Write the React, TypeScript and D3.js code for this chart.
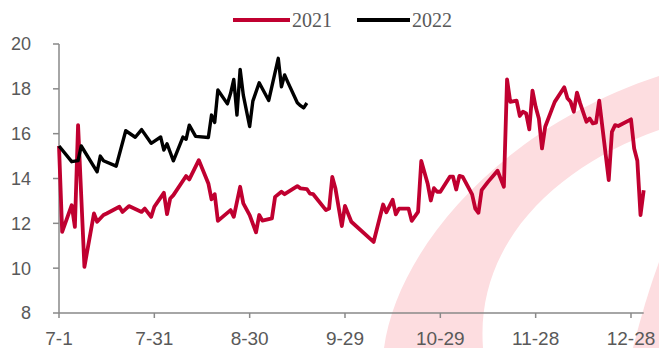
import React from 'react';
import * as d3 from 'd3';

// month-day categories (2021 season, Jan rolls into next year)
const dates2021 = [
  '07-01', '07-02', '07-05', '07-06', '07-07', '07-09', '07-12', '07-13', '07-15', '07-16',
  '07-20', '07-21', '07-23', '07-27', '07-28', '07-30', '07-31', '08-03', '08-04', '08-05',
  '08-06', '08-10', '08-11', '08-14', '08-17', '08-18', '08-19', '08-20', '08-24', '08-25',
  '08-27', '08-28', '08-30', '09-01', '09-02', '09-03', '09-06', '09-07', '09-09', '09-10',
  '09-14', '09-15', '09-17', '09-18', '09-19', '09-23', '09-24', '09-25', '09-26', '09-28',
  '09-29', '10-01', '10-08', '10-11', '10-12', '10-14', '10-15', '10-16', '10-19', '10-20',
  '10-22', '10-23', '10-25', '10-26', '10-27', '10-28', '10-29', '11-01', '11-02', '11-03',
  '11-04', '11-05', '11-08', '11-09', '11-10', '11-11', '11-13', '11-16', '11-18', '11-19',
  '11-20', '11-22', '11-23', '11-24', '11-25', '11-26', '11-27', '11-28', '11-29', '11-30',
  '12-01', '12-03', '12-04', '12-07', '12-08', '12-09', '12-10', '12-11', '12-12', '12-14',
  '12-15', '12-16', '12-17', '12-18', '12-21', '12-22', '12-23', '12-24', '12-28', '12-29',
  '12-30', '12-31', '01-01'
];
const values2021 = [
  15.45, 11.62, 12.81, 11.84, 16.38, 10.06, 12.44, 12.07, 12.37, 12.44,
  12.74, 12.51, 12.77, 12.51, 12.66, 12.29, 12.74, 13.36, 12.41, 13.11,
  13.26, 14.11, 13.96, 14.82, 13.78, 13.07, 13.3, 12.11, 12.59, 12.29,
  13.63, 12.89, 12.37, 11.6, 12.37, 12.12, 12.22, 13.18, 13.41, 13.3,
  13.66, 13.56, 13.53, 13.32, 13.3, 12.59, 12.66, 14.07, 13.55, 11.88,
  12.78, 12.07, 11.17, 12.84, 12.49, 13.05, 12.4, 12.66, 12.66, 12.11,
  12.51, 14.78, 13.78, 13.02, 13.57, 13.41, 13.41, 14.08, 14.08, 13.51,
  14.12, 14.08, 13.29, 12.66, 12.47, 13.48, 13.85, 14.35, 13.63, 18.42,
  17.42, 17.47, 16.79, 16.98, 16.9, 16.19, 17.92, 17.2, 16.68, 15.34,
  16.31, 17.05, 17.42, 18.07, 17.58, 17.42, 16.98, 17.83, 17.35, 16.53,
  16.68, 16.46, 16.49, 17.47, 13.93, 16.08, 16.38, 16.34, 16.64, 15.34,
  14.79, 12.37, 13.48
];

const dates2022 = [
  '07-01', '07-05', '07-07', '07-08', '07-13', '07-14', '07-15', '07-19', '07-22', '07-25',
  '07-27', '07-30', '08-02', '08-03', '08-04', '08-06', '08-09', '08-10', '08-11', '08-13',
  '08-17', '08-18', '08-19', '08-20', '08-23', '08-24', '08-25', '08-26', '08-27', '08-28',
  '08-30', '08-31', '09-02', '09-05', '09-08', '09-09', '09-10', '09-11', '09-14', '09-15',
  '09-16', '09-17'
];
const values2022 = [
  15.45, 14.75, 14.8, 15.45, 14.3, 15.0, 14.79, 14.55, 16.13, 15.84,
  16.18, 15.57, 15.85, 15.27, 15.55, 14.79, 15.85, 15.75, 16.38, 15.88,
  15.83, 16.83, 16.5, 17.95, 17.33, 17.8, 18.42, 16.83, 18.87, 17.72,
  16.32, 17.45, 18.27, 17.48, 19.36, 18.09, 18.62, 18.3, 17.38, 17.25,
  17.15, 17.37
];

const xTickLabels = ['7-1', '7-31', '8-30', '9-29', '10-29', '11-28', '12-28'];
const yTicks = [8, 10, 12, 14, 16, 18, 20];
const seriesNames = ['2021', '2022'];

const RED = '#c00030';
const AXIS = '#898989';
const TEXT = '#595959';

const toDate = (md: string) => {
  const [m, d] = md.split('-').map(Number);
  return new Date(Date.UTC(m >= 7 ? 2021 : 2022, m - 1, d));
};

export default function App() {
  const width = 659;
  const height = 348;

  const x = d3
    .scaleUtc()
    .domain([new Date(Date.UTC(2021, 6, 1)), new Date(Date.UTC(2022, 0, 1))])
    .range([59, 643.7]);
  const y = d3.scaleLinear().domain([8, 20]).range([313, 44]);

  const line = d3
    .line<[string, number]>()
    .x((d) => x(toDate(d[0])))
    .y((d) => y(d[1]));

  const red = line(dates2021.map((d, i) => [d, values2021[i]] as [string, number]));
  const black = line(dates2022.map((d, i) => [d, values2022[i]] as [string, number]));

  const xTicks = xTickLabels.map((l) => ({ label: l, pos: x(toDate(l)) }));

  return (
    <svg
      width={width}
      height={height}
      style={{ position: 'absolute', left: 0, top: 0, background: '#fff' }}
    >
      {/* watermark swoosh */}
      <g fill="#fddde0">
        <path d="M384,348 C397,250 500,128 659,76 L659,130 C560,165 475,240 483,348 Z" />
        <path d="M633,348 Q645,300 659,262 L659,348 Z" />
      </g>

      {/* y axis */}
      <line x1={59} x2={59} y1={y(20)} y2={y(8)} stroke={AXIS} strokeWidth={1.5} />
      {yTicks.map((t) => (
        <g key={t}>
          <line x1={53} x2={59} y1={y(t)} y2={y(t)} stroke={AXIS} strokeWidth={1.5} />
          <text
            x={31}
            y={y(t)}
            dy="0.36em"
            textAnchor="end"
            fontFamily="'Liberation Sans', Arial, sans-serif"
            fontSize={18}
            fill={TEXT}
          >
            {t}
          </text>
        </g>
      ))}

      {/* x axis */}
      <line x1={59} x2={643.7} y1={y(8)} y2={y(8)} stroke={AXIS} strokeWidth={1.5} />
      {xTicks.map((t) => (
        <g key={t.label}>
          <line x1={t.pos} x2={t.pos} y1={y(8)} y2={y(8) + 5} stroke={AXIS} strokeWidth={1.5} />
          <text
            x={t.pos}
            y={345}
            textAnchor="middle"
            fontFamily="'Liberation Sans', Arial, sans-serif"
            fontSize={19}
            fill={TEXT}
          >
            {t.label}
          </text>
        </g>
      ))}

      <path d={red ?? ''} fill="none" stroke={RED} strokeWidth={3.8} strokeLinejoin="round" />
      <path d={black ?? ''} fill="none" stroke="#000" strokeWidth={3.4} strokeLinejoin="round" />

      {/* legend */}
      <g fontFamily="'Liberation Serif', 'Times New Roman', serif" fontSize={20} fill={TEXT}>
        <line x1={233} x2={290} y1={20} y2={20} stroke={RED} strokeWidth={4} />
        <text x={292} y={27}>{seriesNames[0]}</text>
        <line x1={357} x2={410} y1={20} y2={20} stroke="#000" strokeWidth={4} />
        <text x={412} y={27}>{seriesNames[1]}</text>
      </g>
    </svg>
  );
}
